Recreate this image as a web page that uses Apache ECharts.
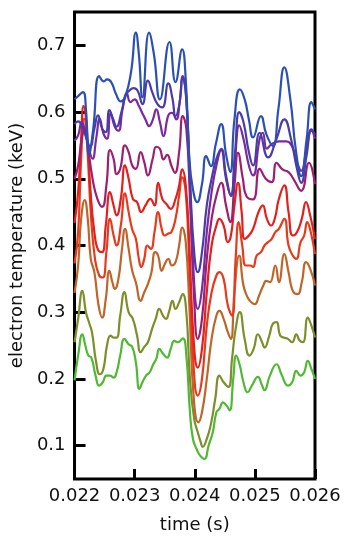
<!DOCTYPE html>
<html>
<head>
<meta charset="utf-8">
<script src="https://cdn.jsdelivr.net/npm/echarts@6/dist/echarts.min.js"></script>
<style>
html, body { margin: 0; padding: 0; background: #fff; }
#chart { width: 352px; height: 540px; }
</style>
</head>
<body>
<div id="chart"></div>
<script>
// tick positions
var xTicks = [0.022, 0.023, 0.024, 0.025, 0.026];
var yTicks = [0.1, 0.2, 0.3, 0.4, 0.5, 0.6, 0.7];

// [time (s), Te (keV)], top channel first
var line1 = [[0.02200,0.619],[0.02206,0.624],[0.02214,0.630],[0.02219,0.604],[0.02224,0.536],[0.02231,0.574],[0.02241,0.654],[0.02249,0.646],[0.02254,0.649],[0.02261,0.645],[0.02269,0.627],[0.02277,0.616],[0.02284,0.622],[0.02294,0.660],[0.02302,0.719],[0.02307,0.687],[0.02313,0.622],[0.02324,0.719],[0.02332,0.687],[0.02342,0.619],[0.02358,0.705],[0.02368,0.645],[0.02379,0.694],[0.02385,0.649],[0.02391,0.530],[0.02397,0.484],[0.02404,0.465],[0.02412,0.492],[0.02419,0.534],[0.02427,0.519],[0.02435,0.552],[0.02444,0.582],[0.02452,0.537],[0.02459,0.510],[0.02466,0.589],[0.02475,0.634],[0.02483,0.619],[0.02490,0.589],[0.02497,0.562],[0.02510,0.594],[0.02519,0.567],[0.02530,0.549],[0.02539,0.604],[0.02549,0.667],[0.02559,0.619],[0.02568,0.544],[0.02577,0.504],[0.02586,0.559],[0.02594,0.615],[0.02600,0.604]];
var line2 = [[0.02200,0.582],[0.02206,0.586],[0.02213,0.578],[0.02220,0.560],[0.02226,0.548],[0.02233,0.575],[0.02239,0.595],[0.02246,0.575],[0.02252,0.570],[0.02258,0.603],[0.02264,0.590],[0.02270,0.578],[0.02278,0.600],[0.02285,0.625],[0.02291,0.632],[0.02298,0.636],[0.02305,0.632],[0.02313,0.612],[0.02322,0.647],[0.02330,0.628],[0.02338,0.612],[0.02346,0.607],[0.02356,0.643],[0.02363,0.620],[0.02368,0.594],[0.02374,0.610],[0.02380,0.650],[0.02386,0.620],[0.02392,0.500],[0.02399,0.390],[0.02405,0.360],[0.02412,0.390],[0.02420,0.460],[0.02428,0.500],[0.02436,0.530],[0.02444,0.545],[0.02452,0.505],[0.02460,0.474],[0.02467,0.540],[0.02474,0.600],[0.02481,0.585],[0.02490,0.540],[0.02497,0.520],[0.02508,0.569],[0.02522,0.532],[0.02536,0.560],[0.02549,0.589],[0.02560,0.560],[0.02570,0.515],[0.02577,0.494],[0.02586,0.535],[0.02594,0.574],[0.02600,0.566]];
var line3 = [[0.02200,0.557],[0.02206,0.565],[0.02212,0.585],[0.02218,0.570],[0.02224,0.545],[0.02230,0.530],[0.02236,0.560],[0.02242,0.590],[0.02248,0.568],[0.02254,0.560],[0.02260,0.598],[0.02267,0.578],[0.02273,0.572],[0.02280,0.605],[0.02287,0.628],[0.02293,0.615],[0.02300,0.619],[0.02307,0.609],[0.02313,0.598],[0.02318,0.589],[0.02324,0.579],[0.02330,0.588],[0.02336,0.604],[0.02342,0.585],[0.02348,0.564],[0.02356,0.595],[0.02362,0.599],[0.02369,0.589],[0.02375,0.615],[0.02380,0.654],[0.02385,0.630],[0.02391,0.520],[0.02398,0.360],[0.02405,0.305],[0.02412,0.335],[0.02420,0.420],[0.02428,0.480],[0.02436,0.520],[0.02444,0.543],[0.02452,0.500],[0.02460,0.476],[0.02467,0.530],[0.02474,0.580],[0.02481,0.560],[0.02490,0.520],[0.02497,0.505],[0.02508,0.560],[0.02513,0.569],[0.02520,0.545],[0.02528,0.552],[0.02540,0.556],[0.02552,0.556],[0.02562,0.548],[0.02570,0.525],[0.02577,0.512],[0.02586,0.545],[0.02594,0.572],[0.02600,0.560]];
var line4 = [[0.02200,0.500],[0.02206,0.520],[0.02212,0.560],[0.02217,0.575],[0.02222,0.550],[0.02230,0.500],[0.02238,0.470],[0.02246,0.458],[0.02253,0.490],[0.02259,0.543],[0.02265,0.530],[0.02270,0.507],[0.02276,0.515],[0.02284,0.550],[0.02290,0.540],[0.02296,0.520],[0.02302,0.515],[0.02310,0.540],[0.02316,0.525],[0.02322,0.505],[0.02330,0.530],[0.02336,0.548],[0.02342,0.545],[0.02348,0.529],[0.02354,0.536],[0.02361,0.520],[0.02367,0.509],[0.02374,0.540],[0.02380,0.594],[0.02386,0.575],[0.02392,0.470],[0.02399,0.320],[0.02405,0.260],[0.02412,0.290],[0.02420,0.380],[0.02428,0.440],[0.02436,0.475],[0.02444,0.494],[0.02452,0.460],[0.02459,0.435],[0.02466,0.490],[0.02472,0.539],[0.02480,0.500],[0.02486,0.474],[0.02497,0.469],[0.02508,0.515],[0.02518,0.500],[0.02528,0.495],[0.02536,0.524],[0.02546,0.514],[0.02556,0.510],[0.02564,0.500],[0.02577,0.482],[0.02590,0.524],[0.02600,0.492]];
var line5 = [[0.02200,0.434],[0.02206,0.480],[0.02211,0.560],[0.02215,0.609],[0.02220,0.580],[0.02226,0.490],[0.02233,0.420],[0.02240,0.392],[0.02246,0.390],[0.02252,0.430],[0.02259,0.480],[0.02265,0.460],[0.02270,0.445],[0.02277,0.470],[0.02284,0.520],[0.02290,0.500],[0.02297,0.470],[0.02304,0.465],[0.02311,0.450],[0.02318,0.460],[0.02326,0.470],[0.02333,0.460],[0.02339,0.494],[0.02346,0.470],[0.02353,0.462],[0.02360,0.455],[0.02368,0.470],[0.02374,0.490],[0.02379,0.514],[0.02385,0.490],[0.02391,0.400],[0.02398,0.260],[0.02405,0.217],[0.02412,0.245],[0.02420,0.330],[0.02428,0.400],[0.02436,0.430],[0.02441,0.440],[0.02448,0.430],[0.02455,0.405],[0.02460,0.414],[0.02466,0.460],[0.02472,0.494],[0.02478,0.450],[0.02483,0.410],[0.02490,0.415],[0.02497,0.425],[0.02506,0.450],[0.02513,0.460],[0.02520,0.440],[0.02527,0.430],[0.02533,0.440],[0.02540,0.470],[0.02549,0.490],[0.02556,0.450],[0.02563,0.415],[0.02570,0.420],[0.02578,0.440],[0.02585,0.465],[0.02592,0.445],[0.02600,0.410]];
var line6 = [[0.02200,0.373],[0.02206,0.420],[0.02211,0.530],[0.02216,0.590],[0.02221,0.550],[0.02227,0.450],[0.02234,0.380],[0.02241,0.355],[0.02247,0.352],[0.02253,0.390],[0.02259,0.440],[0.02265,0.415],[0.02270,0.400],[0.02277,0.430],[0.02284,0.478],[0.02290,0.450],[0.02296,0.424],[0.02302,0.410],[0.02307,0.380],[0.02311,0.368],[0.02316,0.380],[0.02321,0.400],[0.02327,0.395],[0.02333,0.420],[0.02339,0.450],[0.02345,0.425],[0.02350,0.415],[0.02356,0.418],[0.02361,0.420],[0.02368,0.440],[0.02374,0.475],[0.02379,0.502],[0.02385,0.480],[0.02391,0.370],[0.02398,0.220],[0.02405,0.175],[0.02412,0.200],[0.02420,0.280],[0.02428,0.330],[0.02436,0.355],[0.02441,0.360],[0.02448,0.350],[0.02455,0.310],[0.02462,0.295],[0.02468,0.380],[0.02473,0.435],[0.02479,0.400],[0.02485,0.370],[0.02492,0.370],[0.02497,0.368],[0.02503,0.385],[0.02510,0.390],[0.02516,0.400],[0.02522,0.405],[0.02528,0.410],[0.02534,0.420],[0.02540,0.425],[0.02549,0.440],[0.02556,0.400],[0.02563,0.385],[0.02569,0.380],[0.02576,0.405],[0.02582,0.415],[0.02587,0.435],[0.02593,0.420],[0.02600,0.387]];
var line7 = [[0.02200,0.329],[0.02206,0.370],[0.02211,0.440],[0.02217,0.468],[0.02222,0.440],[0.02227,0.380],[0.02233,0.360],[0.02240,0.310],[0.02246,0.292],[0.02252,0.320],[0.02258,0.362],[0.02263,0.345],[0.02267,0.335],[0.02273,0.350],[0.02279,0.395],[0.02284,0.425],[0.02290,0.395],[0.02296,0.362],[0.02302,0.345],[0.02310,0.317],[0.02316,0.330],[0.02322,0.342],[0.02328,0.360],[0.02334,0.390],[0.02339,0.385],[0.02345,0.362],[0.02350,0.372],[0.02356,0.380],[0.02362,0.370],[0.02368,0.375],[0.02374,0.400],[0.02379,0.427],[0.02385,0.405],[0.02391,0.310],[0.02398,0.175],[0.02406,0.135],[0.02412,0.150],[0.02420,0.200],[0.02428,0.260],[0.02436,0.295],[0.02441,0.302],[0.02448,0.290],[0.02455,0.270],[0.02460,0.260],[0.02466,0.330],[0.02474,0.385],[0.02481,0.340],[0.02488,0.322],[0.02494,0.315],[0.02500,0.312],[0.02507,0.325],[0.02514,0.340],[0.02519,0.347],[0.02525,0.345],[0.02534,0.370],[0.02540,0.345],[0.02549,0.387],[0.02556,0.360],[0.02563,0.332],[0.02571,0.327],[0.02578,0.345],[0.02585,0.375],[0.02592,0.365],[0.02600,0.340]];
var line8 = [[0.02200,0.255],[0.02206,0.290],[0.02213,0.332],[0.02219,0.300],[0.02224,0.285],[0.02229,0.270],[0.02236,0.225],[0.02242,0.207],[0.02248,0.215],[0.02254,0.250],[0.02260,0.265],[0.02265,0.262],[0.02270,0.262],[0.02276,0.295],[0.02283,0.330],[0.02290,0.300],[0.02297,0.290],[0.02304,0.265],[0.02310,0.240],[0.02316,0.248],[0.02322,0.255],[0.02329,0.275],[0.02335,0.290],[0.02341,0.305],[0.02347,0.295],[0.02352,0.290],[0.02357,0.300],[0.02363,0.317],[0.02368,0.305],[0.02374,0.315],[0.02380,0.327],[0.02386,0.300],[0.02392,0.200],[0.02399,0.140],[0.02405,0.120],[0.02410,0.105],[0.02413,0.098],[0.02420,0.110],[0.02427,0.133],[0.02434,0.170],[0.02441,0.205],[0.02448,0.195],[0.02456,0.188],[0.02462,0.230],[0.02468,0.275],[0.02475,0.300],[0.02483,0.260],[0.02491,0.235],[0.02498,0.245],[0.02505,0.267],[0.02512,0.255],[0.02516,0.247],[0.02524,0.265],[0.02530,0.283],[0.02536,0.285],[0.02542,0.265],[0.02548,0.262],[0.02555,0.260],[0.02562,0.255],[0.02569,0.267],[0.02574,0.258],[0.02580,0.255],[0.02588,0.292],[0.02594,0.280],[0.02600,0.262]];
var line9 = [[0.02200,0.198],[0.02206,0.235],[0.02213,0.267],[0.02218,0.250],[0.02223,0.235],[0.02228,0.232],[0.02235,0.205],[0.02241,0.190],[0.02247,0.195],[0.02253,0.205],[0.02259,0.205],[0.02265,0.202],[0.02270,0.210],[0.02276,0.235],[0.02283,0.260],[0.02290,0.252],[0.02296,0.248],[0.02302,0.225],[0.02308,0.185],[0.02313,0.195],[0.02319,0.205],[0.02325,0.210],[0.02331,0.222],[0.02336,0.230],[0.02341,0.245],[0.02347,0.238],[0.02354,0.232],[0.02360,0.245],[0.02366,0.257],[0.02372,0.255],[0.02380,0.261],[0.02386,0.235],[0.02392,0.150],[0.02397,0.110],[0.02403,0.095],[0.02409,0.085],[0.02416,0.080],[0.02423,0.100],[0.02430,0.120],[0.02436,0.150],[0.02441,0.155],[0.02447,0.165],[0.02453,0.160],[0.02458,0.153],[0.02464,0.200],[0.02469,0.235],[0.02475,0.220],[0.02481,0.195],[0.02488,0.180],[0.02495,0.190],[0.02505,0.203],[0.02512,0.190],[0.02516,0.183],[0.02525,0.205],[0.02536,0.222],[0.02545,0.205],[0.02555,0.190],[0.02562,0.195],[0.02569,0.212],[0.02576,0.205],[0.02582,0.210],[0.02588,0.227],[0.02594,0.215],[0.02600,0.200]];

var lines = [line1, line2, line3, line4, line5, line6, line7, line8, line9];
var colors = ['#2b50b4', '#4a3ba8', '#7a2a9e', '#9c1f72', '#e3201e', '#e73a1c', '#c0652a', '#7c8f2a', '#50b832'];

var myChart = echarts.init(document.getElementById('chart'));
var font = 'DejaVu Sans';

var option = {
  animation: false,
  backgroundColor: '#fff',
  grid: {
    left: 73, right: 37, top: 12, bottom: 61,
    show: true,
    borderColor: '#000',
    borderWidth: 3
  },
  xAxis: {
    type: 'value',
    min: 0.022, max: 0.026,
    name: 'time (s)',
    nameLocation: 'middle',
    nameGap: 37,
    nameTextStyle: { fontFamily: font, fontSize: 18, color: '#111' },
    axisLine: { show: false },
    splitLine: { show: false },
    axisTick: {
      show: true, inside: true, length: 10,
      customValues: xTicks,
      lineStyle: { color: '#000', width: 3 }
    },
    axisLabel: {
      customValues: xTicks,
      margin: 8,
      fontFamily: font, fontSize: 18, color: '#111',
      formatter: function (v) { return v.toFixed(3); }
    }
  },
  yAxis: {
    type: 'value',
    min: 0.05, max: 0.75,
    name: 'electron temperature (keV)',
    nameLocation: 'middle',
    nameGap: 46,
    nameTextStyle: { fontFamily: font, fontSize: 18, color: '#111' },
    axisLine: { show: false },
    splitLine: { show: false },
    axisTick: {
      show: true, inside: true, length: 11,
      customValues: yTicks,
      lineStyle: { color: '#000', width: 3 }
    },
    axisLabel: {
      customValues: yTicks,
      margin: 9,
      fontFamily: font, fontSize: 18, color: '#111',
      formatter: function (v) { return v.toFixed(1); }
    }
  },
  series: lines.map(function (d, i) {
    return {
      type: 'line',
      data: d,
      smooth: 0.5,
      showSymbol: false,
      symbol: 'none',
      clip: true,
      lineStyle: { color: colors[i], width: 2.2 },
      z: 2 + (lines.length - i)
    };
  })
};
myChart.setOption(option);
</script>
</body>
</html>
